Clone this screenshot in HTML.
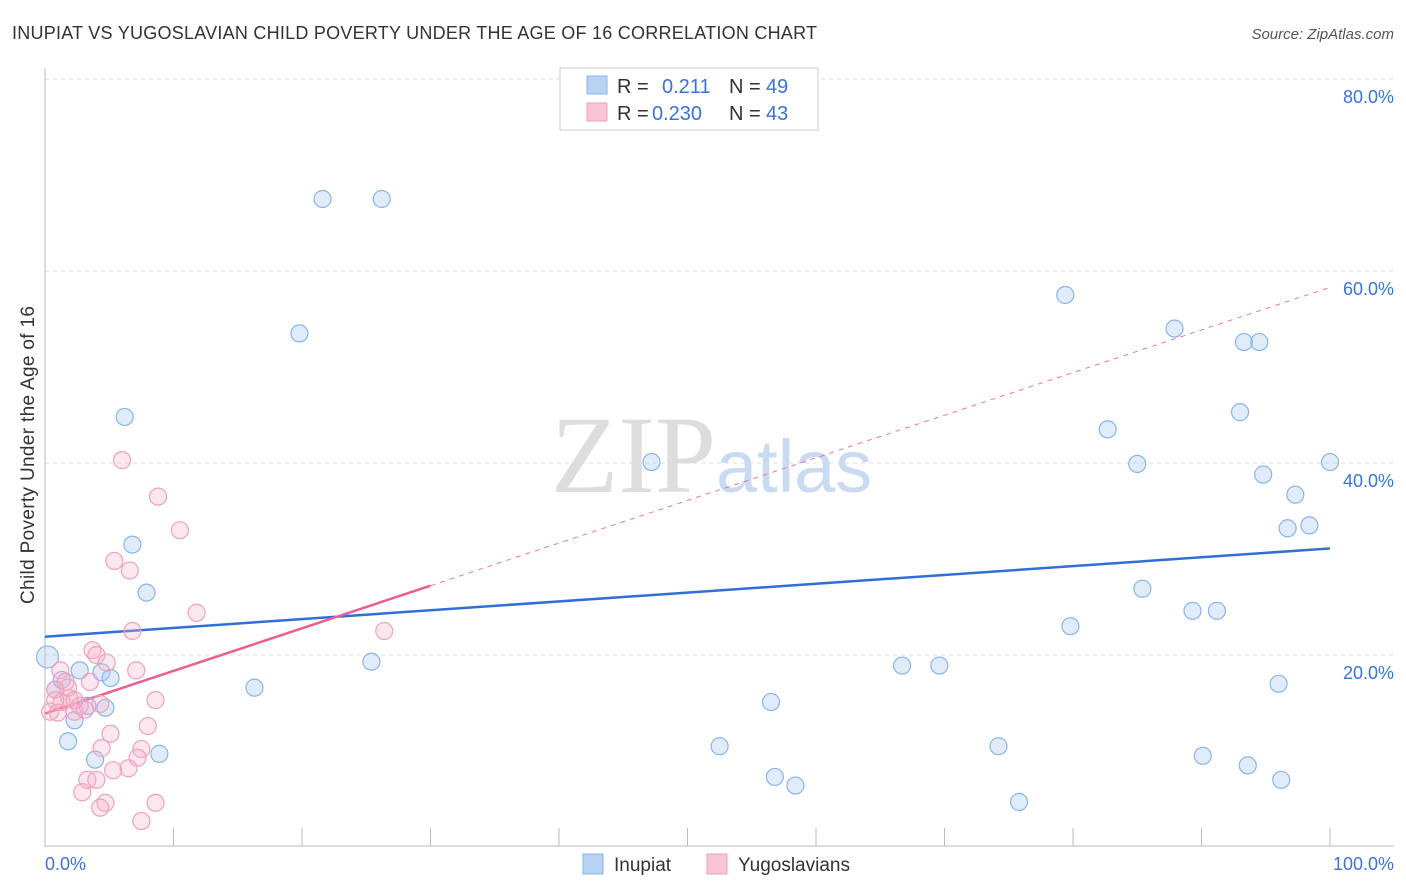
<!DOCTYPE html>
<html><head><meta charset="utf-8"><style>
body{margin:0;background:#fff;font-family:"Liberation Sans",sans-serif}
svg{display:block}
</style></head><body>
<svg id="chart" width="1406" height="892">
<text x="12" y="39" font-size="18" fill="#333" textLength="805">INUPIAT VS YUGOSLAVIAN CHILD POVERTY UNDER THE AGE OF 16 CORRELATION CHART</text>
<text x="1394" y="39" font-size="15" fill="#555" font-style="italic" text-anchor="end">Source: ZipAtlas.com</text>
<text x="716" y="492" font-size="110" fill="#ddd" font-family="Liberation Serif" text-anchor="end">ZIP</text>
<text x="716" y="492" font-size="74" fill="#c9daf2">atlas</text>
<text transform="translate(34,455) rotate(-90)" font-size="19" fill="#333" text-anchor="middle" textLength="298">Child Poverty Under the Age of 16</text>
<g id="grid"></g><g id="trend"></g><g id="pts"></g>
<g>
<rect x="560" y="68" width="258" height="62" fill="#fff" stroke="#ccc"/>
<rect x="587" y="76" width="20" height="18" fill="#b8d2f4" stroke="#8ab4e8"/>
<rect x="587" y="103" width="20" height="18" fill="#f9c5d5" stroke="#f0a0bb"/>
<text x="617" y="93" font-size="20" fill="#333">R =</text><text x="662" y="93" font-size="20" fill="#3a74d6">0.211</text>
<text x="729" y="93" font-size="20" fill="#333">N =</text><text x="766" y="93" font-size="20" fill="#3a74d6">49</text>
<text x="617" y="120" font-size="20" fill="#333">R =</text><text x="652" y="120" font-size="20" fill="#3a74d6">0.230</text>
<text x="729" y="120" font-size="20" fill="#333">N =</text><text x="766" y="120" font-size="20" fill="#3a74d6">43</text>
</g>
<g>
<rect x="583" y="854" width="20" height="20" fill="#b8d2f4" stroke="#8ab4e8"/>
<text x="614" y="871" font-size="19" fill="#333">Inupiat</text>
<rect x="707" y="854" width="20" height="20" fill="#f9c5d5" stroke="#f0a0bb"/>
<text x="738" y="871" font-size="19" fill="#333">Yugoslavians</text>
</g>
<text x="45" y="870" font-size="18" fill="#3a74d6">0.0%</text>
<text x="1394" y="870" font-size="18" fill="#3a74d6" text-anchor="end">100.0%</text>
</svg>
<script>
const yTicks=[20,40,60,80];
const xTicks=[0,10,20,30,40,50,60,70,80,90,100];
const blueX=[21.6,26.2,19.8,6.2,47.2,6.8,7.9,25.4,16.3,0.2,0.8,1.3,2.7,4.4,5.1,2.3,3.3,4.7,1.8,3.9,8.9,79.4,87.9,93.3,94.5,93.0,82.7,85.0,94.8,100,97.3,96.7,98.4,85.4,89.3,91.2,79.8,66.7,69.6,96.0,56.5,52.5,74.2,90.1,93.6,56.8,58.4,96.2,75.8];
const blueY=[67.5,67.5,53.5,44.8,40.1,31.5,26.5,19.3,16.6,19.8,16.4,17.4,18.4,18.2,17.6,13.2,14.7,14.5,11.0,9.1,9.7,57.5,54.0,52.6,52.6,45.3,43.5,39.9,38.8,40.1,36.7,33.2,33.5,26.9,24.6,24.6,23.0,18.9,18.9,17.0,15.1,10.5,10.5,9.5,8.5,7.3,6.4,7.0,4.7];
const pinkX=[6.0,8.8,10.5,5.4,6.6,11.8,6.8,3.7,4.0,4.8,7.1,1.2,1.6,3.5,0.8,1.9,1.3,2.7,4.3,8.6,0.4,1.0,2.3,5.1,8.0,7.5,4.4,7.2,6.5,5.3,3.3,4.0,2.9,4.7,4.3,8.6,7.5,26.4,0.8,1.8,2.3,3.1];
const pinkY=[40.3,36.5,33.0,29.8,28.8,24.4,22.5,20.5,20.0,19.2,18.4,18.4,17.2,17.2,16.4,15.5,15.1,14.7,14.9,15.3,14.1,14.0,14.1,11.8,12.6,10.2,10.3,9.3,8.2,8.0,7.0,7.0,5.7,4.6,4.1,4.6,2.7,22.5,15.3,16.6,15.3,14.3];
const blueTrend=[21.9,31.1];
const pinkTrend=[13.9,58.3];
const NS='http://www.w3.org/2000/svg';
const sx=v=>45+v*12.85, sy=v=>847-v*9.6;
function mk(tag,attrs,parent){const e=document.createElementNS(NS,tag);for(const k in attrs)e.setAttribute(k,attrs[k]);parent.appendChild(e);return e;}
const grid=document.getElementById('grid'),trend=document.getElementById('trend'),pts=document.getElementById('pts');
yTicks.forEach(t=>{
 const l=mk('line',{x1:45,x2:1394,y1:sy(t),y2:sy(t),stroke:'#ddd','stroke-dasharray':'4,4'},grid);
 
 
 const tx=mk('text',{x:1394,y:sy(t)+24,'font-size':18,fill:'#3a74d6','text-anchor':'end'},grid);tx.textContent=t.toFixed(1)+'%';
 
 
});
mk('line',{x1:45,x2:45,y1:68,y2:847,stroke:'#bbb'},grid);
mk('line',{x1:45,x2:1394,y1:846,y2:846,stroke:'#bbb'},grid);
xTicks.forEach(t=>{const l=mk('line',{x1:sx(t),x2:sx(t),y1:828,y2:846,stroke:'#bbb'},grid);
 
 });
const bl=mk('line',{x1:sx(0),y1:sy(blueTrend[0]),x2:sx(100),y2:sy(blueTrend[1]),stroke:'#2f6fd6','stroke-width':2.5},trend);


const pf=x=>pinkTrend[0]+(pinkTrend[1]-pinkTrend[0])*x/100;
const pd=mk('line',{x1:sx(30),y1:sy(pf(30)),x2:sx(100),y2:sy(pf(100)),stroke:'#e87aa0','stroke-width':1,'stroke-dasharray':'5,5'},trend);


const ps=mk('line',{x1:sx(0),y1:sy(pf(0)),x2:sx(30),y2:sy(pf(30)),stroke:'#e8608e','stroke-width':2.5},trend);


blueX.forEach((x,i)=>{const c=mk('circle',{cx:sx(x),cy:sy(blueY[i]),r:(x<0.5?11:8.5),fill:'rgba(170,200,240,0.35)',stroke:'#8ab4e8','stroke-width':1.2},pts);
 
 });
pinkX.forEach((x,i)=>{const c=mk('circle',{cx:sx(x),cy:sy(pinkY[i]),r:8.5,fill:'rgba(245,175,200,0.3)',stroke:'#f0a0bb','stroke-width':1.2},pts);
 
 });
</script>
</body></html>
